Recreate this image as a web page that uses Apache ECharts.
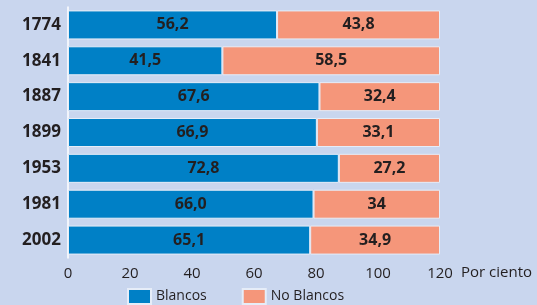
<!DOCTYPE html>
<html>
<head>
<meta charset="utf-8">
<script src="https://cdn.jsdelivr.net/npm/echarts@6/dist/echarts.min.js"></script>
<style>
  html, body { margin: 0; padding: 0; background: #c9d6ee; }
  #chart { width: 537px; height: 305px; }
</style>
</head>
<body>
<div id="chart"></div>
<script>
// population share by year, per cent
var years = ["1774", "1841", "1887", "1899", "1953", "1981", "2002"];
var blancos = [56.2, 41.5, 67.6, 66.9, 72.8, 66.0, 65.1];
var noBlancos = [43.8, 58.5, 32.4, 33.1, 27.2, 34, 34.9];
var blancosLabels = ["56,2", "41,5", "67,6", "66,9", "72,8", "66,0", "65,1"];
var noBlancosLabels = ["43,8", "58,5", "32,4", "33,1", "27,2", "34", "34,9"];
var scaleTicks = [0, 20, 40, 60, 80, 100, 120];

var textColor = "#231f20";
var font = "Open Sans, DejaVu Sans, sans-serif";

function labelFor(texts) {
  return {
    show: true,
    position: "inside",
    color: textColor,
    fontFamily: font,
    fontWeight: "bold",
    fontSize: 16,
    formatter: function (p) { return texts[p.dataIndex]; }
  };
}

var chart = echarts.init(document.getElementById("chart"), null, { renderer: "canvas" });
chart.setOption({
  backgroundColor: "#c9d6ee",
  animation: false,
  textStyle: { fontFamily: font, color: textColor },
  grid: { left: 68, right: 97, top: 7, bottom: 47, outerBoundsMode: "none" },
  legend: {
    left: 122, top: 283,
    icon: "rect", itemWidth: 23, itemHeight: 15, itemGap: 35,
    textStyle: { fontSize: 14, color: textColor, fontFamily: font },
    data: ["Blancos", "No Blancos"]
  },
  xAxis: [
    { type: "value", min: 0, max: 100, show: false },
    {
      type: "value", position: "bottom",
      min: scaleTicks[0], max: scaleTicks[scaleTicks.length - 1], interval: 20,
      axisLine: { show: false }, axisTick: { show: false }, splitLine: { show: false },
      axisLabel: { margin: 8, fontSize: 15, color: textColor, fontFamily: font },
      name: "Por ciento", nameLocation: "end", nameGap: 21,
      nameTextStyle: { fontSize: 15, color: textColor, fontFamily: font, verticalAlign: "top", padding: [7, 0, 0, 0] }
    }
  ],
  yAxis: {
    type: "category", data: years, inverse: true,
    axisLine: { lineStyle: { color: "#ffffff", width: 1.5 } },
    axisTick: { show: false },
    axisLabel: { margin: 7, fontSize: 17, fontWeight: "bold", color: textColor, fontFamily: font }
  },
  series: [
    {
      name: "Blancos", type: "bar", stack: "total", xAxisIndex: 0,
      data: blancos, barWidth: 29,
      itemStyle: { color: "#0080c6", borderColor: "#e6edf8", borderWidth: 1 },
      label: labelFor(blancosLabels)
    },
    {
      name: "No Blancos", type: "bar", stack: "total", xAxisIndex: 0,
      data: noBlancos, barWidth: 29,
      itemStyle: { color: "#f5967a", borderColor: "#e6edf8", borderWidth: 1 },
      label: labelFor(noBlancosLabels)
    }
  ]
});
</script>
</body>
</html>
